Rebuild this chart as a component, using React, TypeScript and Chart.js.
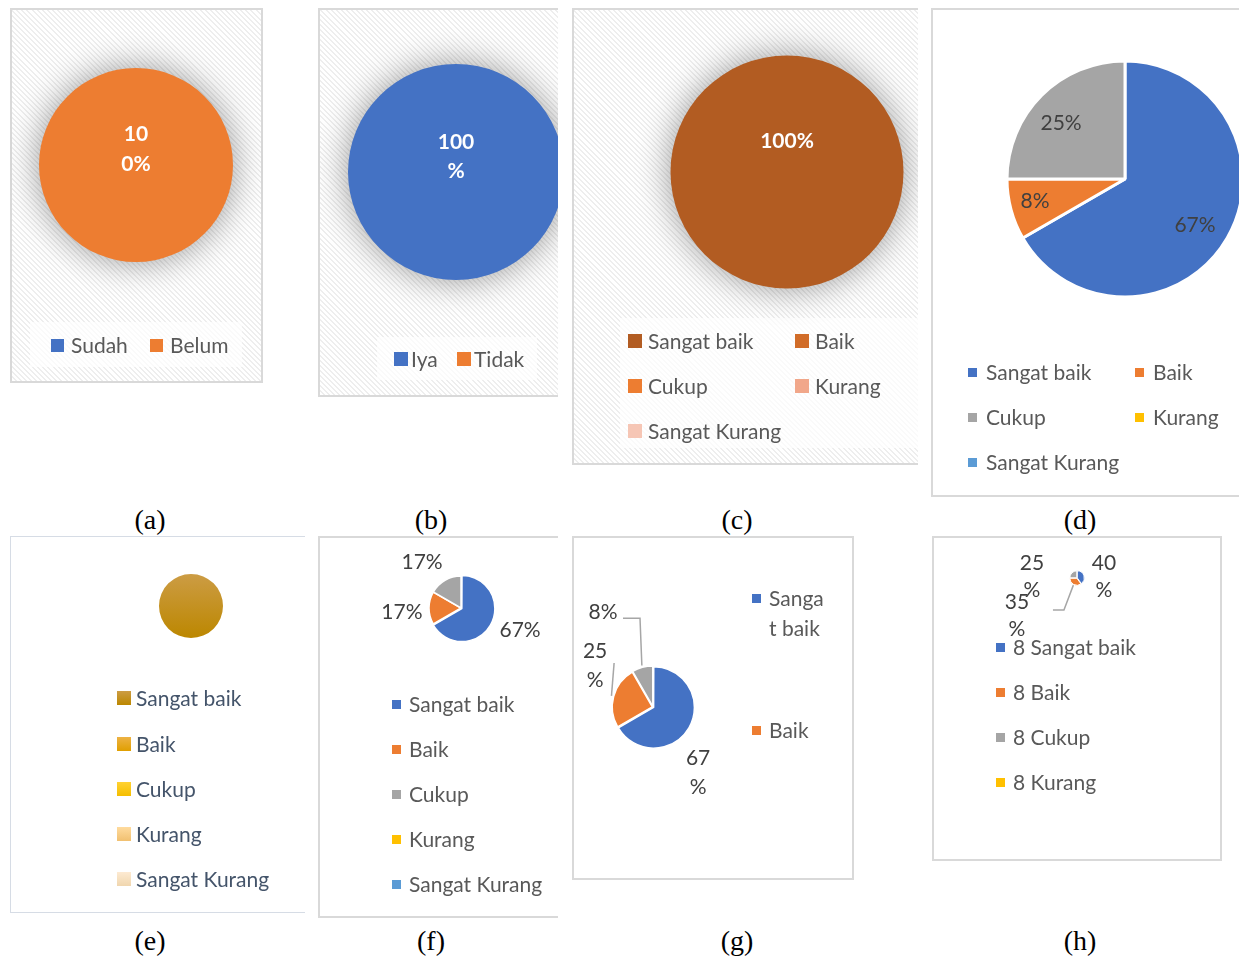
import React, { useEffect, useRef } from 'react';
import { Chart, registerables } from 'chart.js';

Chart.register(...registerables);

// ---------- data ----------
const aLabels = ['Sudah', 'Belum'];
const aValues = [0, 1];
const bLabels = ['Iya', 'Tidak'];
const bValues = [1, 0];
const ratingLabels = ['Sangat baik', 'Baik', 'Cukup', 'Kurang', 'Sangat Kurang'];
const cValues = [1, 0, 0, 0, 0];
const dValues = [8, 1, 3, 0, 0];
const eValues = [1, 0, 0, 0, 0];
const fValues = [4, 1, 1, 0, 0];
const gValues = [8, 3, 1, 0, 0];
const hLabels = ['8 Sangat baik', '8 Baik', '8 Cukup', '8 Kurang'];
const hValues = [8, 7, 5, 0];
const captions = ['(a)', '(b)', '(c)', '(d)', '(e)', '(f)', '(g)', '(h)'];

// ---------- styles ----------
const officeColors = ['#4472C4', '#ED7D31', '#A5A5A5', '#FFC000', '#5B9BD5'];
const orangeMono = ['#B25C22', '#D16C28', '#ED7D31', '#F1A78A', '#F6C6B5'];
const goldTop = ['#CC9C44', '#EDB244', '#FFD233', '#FFDB9E', '#FDEAD2'];
const goldBottom = ['#BC8700', '#E09F00', '#F5BE00', '#F1C070', '#F0D6AE'];
const FONT = 'Lato, "Open Sans", sans-serif';

type SliceLabel = {
  ang: number;
  dist: number;
  wrap?: number;
  leader?: [number, number, number, number];
} | null;

type LegendItem = { idx: number; x: number; y: number };

type PanelSpec = {
  id: string;
  box: [number, number, number, number];
  rightBorder: boolean;
  hatch: boolean;
  borderColor: string;
  borderW: number;
  center: [number, number];
  r: number;
  labels: string[];
  values: number[];
  colors: string[];
  gradient?: boolean;
  sliceBorder: number;
  offset: number | number[];
  shadow: boolean;
  labelColor: string;
  labelBold: boolean;
  labelSize: number;
  lineHeight: number;
  slices: SliceLabel[];
  legend: LegendItem[];
  legendSquare: number;
  legendGap: number;
  legendColor: string;
  legendSwatches?: string[];
  legendBox?: [number, number, number, number];
  legendTextWidth?: number;
};

const panels: PanelSpec[] = [
  {
    id: 'a', box: [10, 8, 253, 375], rightBorder: true, hatch: true, borderColor: '#D9D9D9', borderW: 2,
    center: [136, 165], r: 97, labels: aLabels, values: aValues, colors: ['#4472C4', '#ED7D31'],
    sliceBorder: 0, offset: 0, shadow: true, labelColor: '#FFFFFF', labelBold: true, labelSize: 21, lineHeight: 30,
    slices: [null, { ang: 270, dist: 0.16, wrap: 2 }],
    legend: [{ idx: 0, x: 51, y: 345 }, { idx: 1, x: 150, y: 345 }],
    legendSquare: 13, legendGap: 7, legendColor: '#595959', legendBox: [30, 322, 212, 45],
  },
  {
    id: 'b', box: [318, 8, 240, 389], rightBorder: false, hatch: true, borderColor: '#D9D9D9', borderW: 2,
    center: [456, 172], r: 108, labels: bLabels, values: bValues, colors: ['#4472C4', '#ED7D31'],
    sliceBorder: 0, offset: 0, shadow: true, labelColor: '#FFFFFF', labelBold: true, labelSize: 21, lineHeight: 29,
    slices: [{ ang: 270, dist: 0.14, wrap: 3 }, null],
    legend: [{ idx: 0, x: 394, y: 359 }, { idx: 1, x: 457, y: 359 }],
    legendSquare: 14, legendGap: 3, legendColor: '#595959', legendBox: [377, 337, 160, 43],
  },
  {
    id: 'c', box: [572, 8, 346, 457], rightBorder: false, hatch: true, borderColor: '#D9D9D9', borderW: 2,
    center: [787, 172], r: 116.5, labels: ratingLabels, values: cValues, colors: orangeMono,
    sliceBorder: 0, offset: 0, shadow: true, labelColor: '#FFFFFF', labelBold: true, labelSize: 21, lineHeight: 29,
    slices: [{ ang: 270, dist: 0.26 }, null, null, null, null],
    legend: [
      { idx: 0, x: 628, y: 341 }, { idx: 1, x: 795, y: 341 },
      { idx: 2, x: 628, y: 386 }, { idx: 3, x: 795, y: 386 },
      { idx: 4, x: 628, y: 431 },
    ],
    legendSquare: 14, legendGap: 6, legendColor: '#595959', legendBox: [620, 318, 298, 130],
  },
  {
    id: 'd', box: [931, 8, 308, 489], rightBorder: false, hatch: false, borderColor: '#D9D9D9', borderW: 2,
    center: [1125, 179], r: 118, labels: ratingLabels, values: dValues, colors: officeColors,
    sliceBorder: 3, offset: 0, shadow: false, labelColor: '#404040', labelBold: false, labelSize: 21, lineHeight: 28,
    slices: [{ ang: 33.3, dist: 0.71 }, { ang: 166.3, dist: 0.785 }, { ang: 221.2, dist: 0.72 }, null, null],
    legend: [
      { idx: 0, x: 968, y: 372 }, { idx: 1, x: 1135, y: 372 },
      { idx: 2, x: 968, y: 417 }, { idx: 3, x: 1135, y: 417 },
      { idx: 4, x: 968, y: 462 },
    ],
    legendSquare: 9, legendGap: 9, legendColor: '#595959',
  },
  {
    id: 'e', box: [10, 536, 295, 377], rightBorder: false, hatch: false, borderColor: '#D6DCE5', borderW: 1.5,
    center: [191, 606], r: 32, labels: ratingLabels, values: eValues, colors: goldBottom, gradient: true,
    sliceBorder: 0, offset: 0, shadow: false, labelColor: '#404040', labelBold: false, labelSize: 21, lineHeight: 28,
    slices: [null, null, null, null, null],
    legend: [
      { idx: 0, x: 117, y: 698 }, { idx: 1, x: 117, y: 744 }, { idx: 2, x: 117, y: 789 },
      { idx: 3, x: 117, y: 834 }, { idx: 4, x: 117, y: 879 },
    ],
    legendSquare: 14, legendGap: 5, legendColor: '#44546A',
    legendSwatches: goldTop.map((t, i) => `linear-gradient(180deg, ${t}, ${goldBottom[i]})`),
  },
  {
    id: 'f', box: [318, 536, 240, 382], rightBorder: false, hatch: false, borderColor: '#D9D9D9', borderW: 2,
    center: [461, 608], r: 32, labels: ratingLabels, values: fValues, colors: officeColors,
    sliceBorder: 1.5, offset: [4, 0, 0, 0, 0], shadow: false, labelColor: '#404040', labelBold: false, labelSize: 21, lineHeight: 28,
    slices: [{ ang: 20.4, dist: 1.97 }, { ang: 176, dist: 1.85 }, { ang: 229.7, dist: 1.88 }, null, null],
    legend: [
      { idx: 0, x: 392, y: 704 }, { idx: 1, x: 392, y: 749 }, { idx: 2, x: 392, y: 794 },
      { idx: 3, x: 392, y: 839 }, { idx: 4, x: 392, y: 884 },
    ],
    legendSquare: 9, legendGap: 8, legendColor: '#595959',
  },
  {
    id: 'g', box: [572, 536, 282, 344], rightBorder: true, hatch: false, borderColor: '#D9D9D9', borderW: 2,
    center: [653, 707], r: 40, labels: ratingLabels, values: gValues, colors: officeColors,
    sliceBorder: 1.5, offset: 3, shadow: false, labelColor: '#404040', labelBold: false, labelSize: 21, lineHeight: 29,
    slices: [
      { ang: 55.7, dist: 2.0, wrap: 2 },
      { ang: 215.6, dist: 1.78, wrap: 2, leader: [19, -2.5, 19, -2.5] },
      { ang: 242.2, dist: 2.68, leader: [20, 6, 37, 6] },
      null, null,
    ],
    legend: [{ idx: 0, x: 752, y: 598 }, { idx: 1, x: 752, y: 730 }],
    legendSquare: 9, legendGap: 8, legendColor: '#595959', legendTextWidth: 62,
  },
  {
    id: 'h', box: [932, 536, 290, 325], rightBorder: true, hatch: false, borderColor: '#D9D9D9', borderW: 2,
    center: [1077, 578], r: 7, labels: hLabels, values: hValues, colors: officeColors.slice(0, 4),
    sliceBorder: 1, offset: 1, shadow: false, labelColor: '#404040', labelBold: false, labelSize: 21, lineHeight: 27,
    slices: [
      { ang: 356.8, dist: 3.86, wrap: 2 },
      { ang: 147.7, dist: 10.15, wrap: 2, leader: [36, -6, 47, -6] },
      { ang: 181.9, dist: 6.43, wrap: 2 },
      null,
    ],
    legend: [
      { idx: 0, x: 996, y: 647 }, { idx: 1, x: 996, y: 692 },
      { idx: 2, x: 996, y: 737 }, { idx: 3, x: 996, y: 782 },
    ],
    legendSquare: 9, legendGap: 8, legendColor: '#595959',
  },
];

const captionPos: [number, number][] = [
  [150, 520], [431, 520], [737, 520], [1080, 520],
  [150, 941], [431, 941], [737, 941], [1080, 941],
];

const HATCH = 'repeating-linear-gradient(45deg, #FFFFFF 0px, #FFFFFF 2.2px, #EEEEEE 2.2px, #EEEEEE 3.6px)';

function PieCanvas({ spec }: { spec: PanelSpec }) {
  const ref = useRef<HTMLCanvasElement | null>(null);
  useEffect(() => {
    const canvas = ref.current;
    if (!canvas) return;
    const [px, py, pw, ph] = spec.box;
    const [cx, cy] = spec.center;
    const lx = cx - px;
    const ly = cy - py;
    const half = Math.max(Math.min(lx, pw - lx, ly, ph - ly) - 1, 4);
    const total = spec.values.reduce((s, v) => s + v, 0);

    const decor = {
      id: 'decor_' + spec.id,
      beforeDatasetsDraw(chart: any) {
        if (spec.shadow) {
          const c = chart.ctx;
          c.save();
          c.shadowColor = 'rgba(0,0,0,0.4)';
          c.shadowBlur = 34;
        }
      },
      afterDatasetsDraw(chart: any) {
        const c = chart.ctx;
        if (spec.shadow) c.restore();
        const meta = chart.getDatasetMeta(0);
        spec.slices.forEach((s, i) => {
          if (!s) return;
          const arc = meta.data[i];
          if (!arc) return;
          const p = arc.getProps(['x', 'y', 'outerRadius', 'startAngle', 'endAngle'], true);
          const a = (s.ang * Math.PI) / 180;
          const tx = p.x + Math.cos(a) * s.dist * p.outerRadius;
          const ty = p.y + Math.sin(a) * s.dist * p.outerRadius;
          const pct = Math.round((spec.values[i] / total) * 100) + '%';
          const lines = s.wrap ? [pct.slice(0, s.wrap), pct.slice(s.wrap)] : [pct];
          if (s.leader) {
            const off = Array.isArray(spec.offset) ? spec.offset[i] : spec.offset;
            const mid = (p.startAngle + p.endAngle) / 2;
            const ex = p.x + Math.cos(mid) * (p.outerRadius + off);
            const ey = p.y + Math.sin(mid) * (p.outerRadius + off);
            c.save();
            c.strokeStyle = '#A6A6A6';
            c.lineWidth = 1.5;
            c.beginPath();
            c.moveTo(tx + s.leader[0], ty + s.leader[1]);
            c.lineTo(tx + s.leader[2], ty + s.leader[3]);
            c.lineTo(ex, ey);
            c.stroke();
            c.restore();
          }
          c.save();
          c.fillStyle = spec.labelColor;
          c.font = `${spec.labelBold ? 'bold ' : ''}${spec.labelSize}px ${FONT}`;
          c.textAlign = 'center';
          c.textBaseline = 'middle';
          lines.forEach((ln, j) => {
            c.fillText(ln, tx, ty + (j - (lines.length - 1) / 2) * spec.lineHeight);
          });
          c.restore();
        });
      },
    };

    const bg = spec.gradient
      ? (ctx: any) => {
          const i = ctx.dataIndex ?? 0;
          const chart = ctx.chart;
          const g = chart.ctx.createLinearGradient(0, ly - spec.r, 0, ly + spec.r);
          g.addColorStop(0, goldTop[i]);
          g.addColorStop(1, spec.colors[i]);
          return g;
        }
      : spec.colors;

    const chart = new Chart(canvas, {
      type: 'pie',
      data: {
        labels: spec.labels,
        datasets: [
          {
            data: spec.values,
            backgroundColor: bg as any,
            borderColor: '#FFFFFF',
            borderWidth: spec.sliceBorder,
            offset: spec.offset as any,
            radius: spec.r,
            clip: false as any,
          } as any,
        ],
      },
      options: {
        responsive: false,
        maintainAspectRatio: false,
        animation: false,
        events: [],
        layout: {
          padding: { left: lx - half, right: pw - lx - half, top: ly - half, bottom: ph - ly - half },
        },
        plugins: { legend: { display: false }, tooltip: { enabled: false } },
      },
      plugins: [decor],
    });
    return () => chart.destroy();
  }, [spec]);

  const [px, py, pw, ph] = spec.box;
  return (
    <canvas
      ref={ref}
      width={pw}
      height={ph}
      style={{ position: 'absolute', left: px, top: py, width: pw, height: ph }}
    />
  );
}

function Panel({ spec }: { spec: PanelSpec }) {
  const [px, py, pw, ph] = spec.box;
  const b = `${spec.borderW}px solid ${spec.borderColor}`;
  const lh = 30;
  return (
    <>
      <div
        style={{
          position: 'absolute', left: px, top: py, width: pw, height: ph, boxSizing: 'border-box',
          borderTop: b, borderLeft: b, borderBottom: b, borderRight: spec.rightBorder ? b : 'none',
          background: spec.hatch ? HATCH : '#FFFFFF',
        }}
      />
      {spec.legendBox && (
        <div
          style={{
            position: 'absolute', left: spec.legendBox[0], top: spec.legendBox[1],
            width: Math.min(spec.legendBox[2], px + pw - spec.legendBox[0]), height: spec.legendBox[3],
            background: 'rgba(255,255,255,0.72)',
          }}
        />
      )}
      <PieCanvas spec={spec} />
      {spec.legend.map((it) => (
        <div
          key={it.idx}
          style={{
            position: 'absolute', left: it.x, top: it.y - lh / 2, display: 'flex', alignItems: 'flex-start',
            fontFamily: FONT, fontSize: 21, lineHeight: `${lh}px`, color: spec.legendColor,
            whiteSpace: spec.legendTextWidth ? 'normal' : 'nowrap',
          }}
        >
          <span
            style={{
              display: 'block', flex: 'none', width: spec.legendSquare, height: spec.legendSquare,
              marginTop: (lh - spec.legendSquare) / 2, marginRight: spec.legendGap,
              background: spec.legendSwatches ? spec.legendSwatches[it.idx] : spec.colors[it.idx],
            }}
          />
          <span
            style={
              spec.legendTextWidth
                ? { display: 'block', width: spec.legendTextWidth, wordBreak: 'break-all' }
                : { display: 'block' }
            }
          >
            {spec.labels[it.idx]}
          </span>
        </div>
      ))}
    </>
  );
}

export default function App() {
  return (
    <div
      style={{
        position: 'absolute', left: 0, top: 0, width: 1239, height: 957, overflow: 'hidden', background: '#FFFFFF',
      }}
    >
      {panels.map((p) => (
        <Panel key={p.id} spec={p} />
      ))}
      {captions.map((c, i) => (
        <div
          key={c}
          style={{
            position: 'absolute', left: captionPos[i][0] - 50, top: captionPos[i][1] - 16, width: 100,
            textAlign: 'center', fontFamily: '"Liberation Serif", "Times New Roman", serif', fontSize: 28,
            lineHeight: '32px', color: '#000',
          }}
        >
          {c}
        </div>
      ))}
    </div>
  );
}
